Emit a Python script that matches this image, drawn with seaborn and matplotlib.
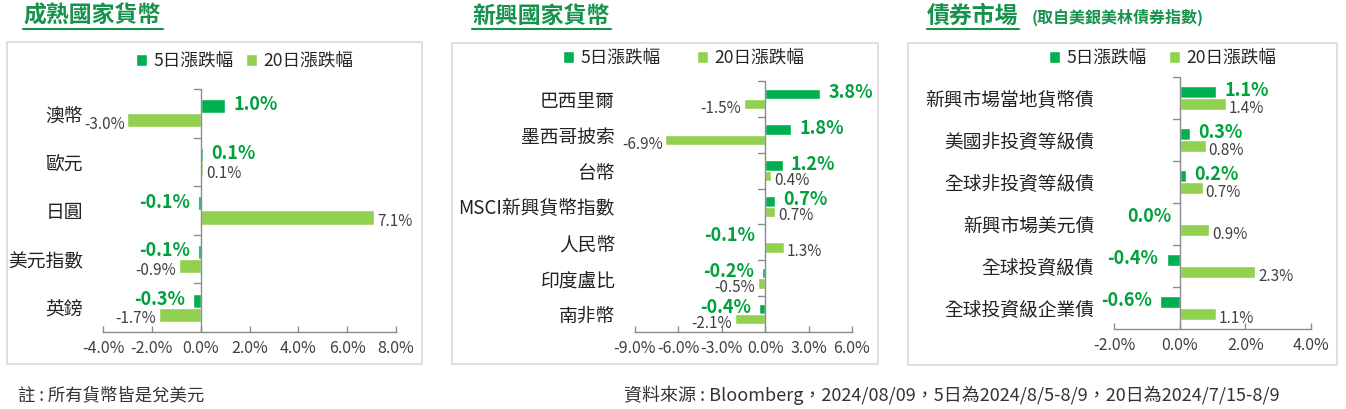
import matplotlib
matplotlib.use("Agg")
import matplotlib.pyplot as plt
from matplotlib.patches import Rectangle
from matplotlib.lines import Line2D
import pandas as pd
import seaborn as sns

W, H = 1346, 409

series = ["5日漲跌幅", "20日漲跌幅"]

dev_cats = ["澳幣", "歐元", "日圓", "美元指數", "英鎊"]
dev_5d = [1.0, 0.1, -0.1, -0.1, -0.3]
dev_20d = [-3.0, 0.1, 7.1, -0.9, -1.7]
dev_ticks = [-4, -2, 0, 2, 4, 6, 8]

em_cats = ["巴西里爾", "墨西哥披索", "台幣", "MSCI新興貨幣指數", "人民幣", "印度盧比", "南非幣"]
em_5d = [3.8, 1.8, 1.2, 0.7, -0.1, -0.2, -0.4]
em_20d = [-1.5, -6.9, 0.4, 0.7, 1.3, -0.5, -2.1]
em_ticks = [-9, -6, -3, 0, 3, 6]

bond_cats = ["新興市場當地貨幣債", "美國非投資等級債", "全球非投資等級債",
             "新興市場美元債", "全球投資級債", "全球投資級企業債"]
bond_5d = [1.1, 0.3, 0.2, 0.0, -0.4, -0.6]
bond_20d = [1.4, 0.8, 0.7, 0.9, 2.3, 1.1]
bond_ticks = [-2, 0, 2, 4]

DARK = "#00B050"
LIGHT = "#92D050"
LABEL_GREEN = "#00A03C"
TITLE_GREEN = "#17924D"
AXIS_GRAY = "#8C8C8C"

sns.set_theme(style="white")
plt.rcParams["font.family"] = ["Noto Sans CJK TC", "DejaVu Sans"]

fig = plt.figure(figsize=(W / 100, H / 100), dpi=100)


def fx(x):
    return x / W


def fy(y):
    return 1 - y / H


def draw_panel(box, axbox, title, title_x, cats, v5, v20, ticks, legend_x, legend_y, colspace):
    bx0, by0, bx1, by1 = box
    fig.patches.append(Rectangle((fx(bx0), fy(by1)), (bx1 - bx0) / W, (by1 - by0) / H,
                                 transform=fig.transFigure, fill=False,
                                 edgecolor="#D9D9D9", lw=1.2))
    # title with underline
    fig.text(fx(title_x[0]), fy(16), title, fontsize=16.5, fontweight="bold",
             color=TITLE_GREEN, va="center")
    fig.add_artist(Line2D([fx(title_x[0]), fx(title_x[1])], [fy(28.5)] * 2,
                          color=TITLE_GREEN, lw=1.5))

    x0, y0, x1, y1 = axbox
    ax = fig.add_axes([fx(x0), fy(y1), (x1 - x0) / W, (y1 - y0) / H])
    df = pd.DataFrame({
        "cat": cats * 2,
        "val": v5 + v20,
        "series": [series[0]] * len(cats) + [series[1]] * len(cats),
    })
    sns.barplot(data=df, x="val", y="cat", hue="series", orient="h",
                palette=[DARK, LIGHT], saturation=1, width=0.58, ax=ax)
    ax.set_xlim(ticks[0], ticks[-1])
    ax.set_ylim(len(cats) - 0.5, -0.5)
    ax.set_xticks(ticks)
    ax.set_xticklabels([f"{t:.1f}%" for t in ticks])
    ax.set_xlabel("")
    ax.set_ylabel("")
    for s in ["top", "right", "left"]:
        ax.spines[s].set_visible(False)
    ax.spines["bottom"].set_color(AXIS_GRAY)
    ax.spines["bottom"].set_linewidth(1)
    ax.tick_params(axis="x", direction="in", length=4, width=1, color=AXIS_GRAY,
                   labelsize=11.5, labelcolor="#404040", pad=6, bottom=True)
    ax.tick_params(axis="y", length=0, pad=14.4, labelsize=13.5, labelcolor="#222222")
    for lab in ax.get_yticklabels():
        lab.set_fontweight("medium")
    ax.set_facecolor("none")

    # vertical zero axis with category boundary ticks
    ax.axvline(0, color=AXIS_GRAY, lw=1)
    unit_px = (x1 - x0) / (ticks[-1] - ticks[0])
    tl = 7 / unit_px
    for k in range(len(cats)):
        ax.plot([-tl, 0], [k - 0.5] * 2, color=AXIS_GRAY, lw=1, clip_on=False)

    # value labels
    for bar, v in zip(ax.containers[0], v5):
        yc = bar.get_y() + bar.get_height() / 2
        pos = v > 0
        ax.annotate(f"{v:.1f}%", (v, yc), xytext=(6 if pos else -6, 1),
                    textcoords="offset points", ha="left" if pos else "right",
                    va="center", color=LABEL_GREEN, fontsize=13, fontweight="bold")
    for bar, v in zip(ax.containers[1], v20):
        yc = bar.get_y() + bar.get_height() / 2
        pos = v > 0
        ax.annotate(f"{v:.1f}%", (v, yc), xytext=(2 if pos else -2, -3),
                    textcoords="offset points", ha="left" if pos else "right",
                    va="center", color="#404040", fontsize=11)

    handles, labels = ax.get_legend_handles_labels()
    ax.legend(handles, labels, loc="center left",
              bbox_to_anchor=(fx(legend_x), fy(legend_y)), bbox_transform=fig.transFigure,
              ncol=2, frameon=False, fontsize=12.7, handlelength=0.62, handleheight=0.62,
              handletextpad=0.35, columnspacing=colspace, borderpad=0, borderaxespad=0)
    return ax


draw_panel((7, 42, 422, 364), (103, 89, 396, 332), "成熟國家貨幣", (23, 163),
           dev_cats, dev_5d, dev_20d, dev_ticks, 136, 61, 0.7)
draw_panel((452, 43, 878, 364), (635, 81, 852, 332), "新興國家貨幣", (472, 611),
           em_cats, em_5d, em_20d, em_ticks, 563, 58, 2.1)
draw_panel((908, 43, 1337, 365), (1114, 77, 1311, 329), "債券市場", (927, 1019),
           bond_cats, bond_5d, bond_20d, bond_ticks, 1049, 58, 1.3)

fig.text(fx(1032), fy(17), "(取自美銀美林債券指數)", fontsize=11.5, fontweight="bold",
         color=TITLE_GREEN, va="center")

fig.text(fx(18), fy(395), "註 : 所有貨幣皆是兌美元", fontsize=12.5, color="#333333", va="center")
fig.text(fx(1280), fy(395),
         "資料來源 : Bloomberg，2024/08/09，5日為2024/8/5-8/9，20日為2024/7/15-8/9",
         fontsize=13, color="#333333", va="center", ha="right")

fig.savefig("out.png", dpi=100, facecolor="white")
